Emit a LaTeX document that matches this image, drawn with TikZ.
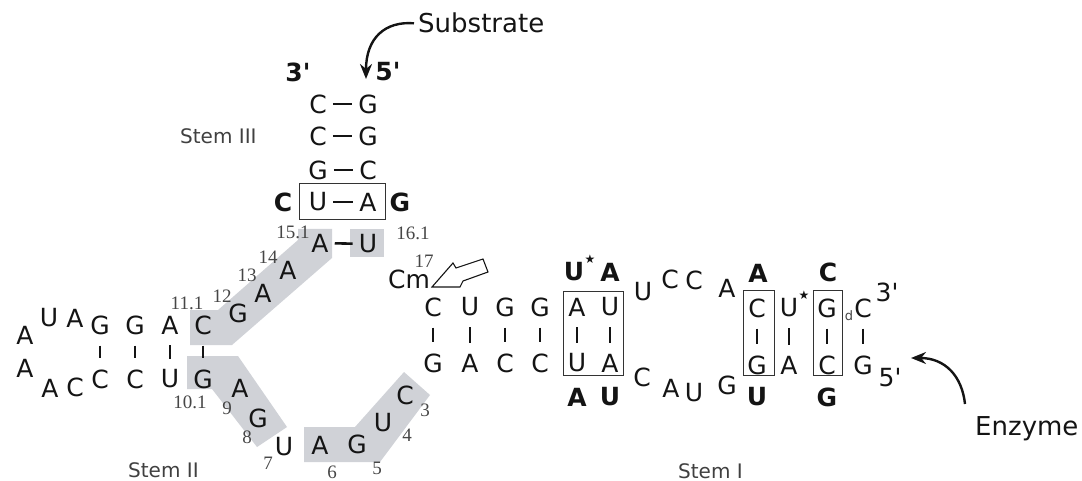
\documentclass[tikz,border=0pt]{standalone}
\usepackage{fontspec}
\setmainfont{DejaVu Sans}
\newfontfamily\numfont{Liberation Serif}
\usetikzlibrary{arrows.meta}

\definecolor{band}{RGB}{208,210,215}
\definecolor{numgray}{RGB}{70,70,70}
\definecolor{ink}{RGB}{20,20,20}

\newcommand{\pr}{\textquotesingle}

\begin{document}
\begin{tikzpicture}[x=1pt,y=-1pt,
  nt/.style={inner sep=0pt, text=ink, font=\fontsize{25}{25}\selectfont},
  bt/.style={inner sep=0pt, text=ink, font=\fontsize{25}{25}\selectfont\bfseries},
  num/.style={inner sep=0pt, text=numgray, font=\fontsize{19}{19}\selectfont\numfont},
  lbl/.style={inner sep=0pt, text=black!75, font=\fontsize{20}{20}\selectfont},
  big/.style={inner sep=0pt, text=ink, font=\fontsize{26}{26}\selectfont},
  star/.style={inner sep=0pt, text=ink, font=\fontsize{12}{12}\selectfont},
  vbar/.style={line width=2.6pt, draw=ink, shorten <=11pt, shorten >=11pt},
  hbar/.style={line width=2.6pt, draw=ink, shorten <=6pt, shorten >=6pt},
  pairbox/.style={draw=black!80, line width=0.9pt},
  curved/.style={line width=2.4pt, draw=ink, -{Stealth[length=15pt,width=12pt]}},
]
\useasboundingbox (0,0) rectangle (1082,481);

% ---------- shaded strands of the catalytic core ----------
\fill[band] (190,310) -- (218,310) -- (298,240) -- (298,229) -- (332,229)
  -- (332,258) -- (232,345) -- (190,345) -- cycle;
\fill[band] (350,229) rectangle (384,257);
\fill[band] (187,356) -- (238,356) -- (287,427) -- (257,447) -- (212,389)
  -- (187,389) -- cycle;
\fill[band] (304,427) -- (355,427) -- (404,372) -- (430,395) -- (380,462)
  -- (304,462) -- cycle;

% ---------- Stem III ----------
\node[bt] (p3) at (298,72) {3\pr};
\node[bt] (p5) at (388,72) {5\pr};
\node[nt] (s1l) at (318,104) {C}; \node[nt] (s1r) at (368,104) {G};
\node[nt] (s2l) at (318,136) {C}; \node[nt] (s2r) at (368,136) {G};
\node[nt] (s3l) at (318,170) {G}; \node[nt] (s3r) at (368,170) {C};
\node[nt] (s4l) at (318,202) {U}; \node[nt] (s4r) at (368,202) {A};
\node[bt] (s4c) at (283,202) {C};
\node[bt] (s4g) at (400,202) {G};
\node[nt] (s5l) at (320,243) {A}; \node[nt] (s5r) at (368,244) {U};
\foreach \i in {1,...,5} \draw[hbar] (s\i l) -- (s\i r);
\draw[pairbox] (299,183) rectangle (385,219);
\node[lbl, anchor=base west] (stem3) at (180,144) {Stem III};
\node[num] (n151) at (293,232) {15.1};
\node[num] (n161) at (413,233) {16.1};

% ---------- Substrate arrow ----------
\node[big, anchor=base west] (substrate) at (418,33) {Substrate};
\coordinate (subtip) at (366,79);
\draw[curved] ([xshift=-4pt]substrate.west) .. controls (385,21) and (366,38) .. (subtip);

% ---------- strand from Stem II to Stem III ----------
\node[nt] (j12) at (238,313) {G};
\node[nt] (j13) at (263,293) {A};
\node[nt] (j14) at (288,270) {A};
\node[num] (n111) at (187,303) {11.1};
\node[num] (n12) at (222,296) {12};
\node[num] (n13) at (247,275) {13};
\node[num] (n14) at (268,257) {14};

% ---------- Stem II ----------
\node[nt] (t1) at (100,325) {G}; \node[nt] (b1) at (100,379) {C};
\node[nt] (t2) at (135,325) {G}; \node[nt] (b2) at (135,379) {C};
\node[nt] (t3) at (170,325) {A}; \node[nt] (b3) at (170,379) {U};
\node[nt] (t4) at (203,325) {C}; \node[nt] (b4) at (203,379) {G};
\foreach \i in {1,...,4} \draw[vbar] (t\i) -- (b\i);
\node[nt] (l1) at (75,318) {A};
\node[nt] (l2) at (49,318) {U};
\node[nt] (l3) at (25,335) {A};
\node[nt] (l4) at (25,368) {A};
\node[nt] (l5) at (50,388) {A};
\node[nt] (l6) at (75,387) {C};
\node[lbl, anchor=base west] (stem2) at (128,477) {Stem II};

% ---------- strand from Stem II to Stem I ----------
\node[nt] (c9) at (240,388) {A};
\node[nt] (c8) at (258,418) {G};
\node[nt] (c7) at (284,447) {U};
\node[nt] (c6) at (320,445) {A};
\node[nt] (c5) at (357,444) {G};
\node[nt] (c4) at (383,423) {U};
\node[nt] (c3) at (405,395) {C};
\node[num] (n101) at (190,402) {10.1};
\node[num] (n9) at (227,408) {9};
\node[num] (n8) at (247,437) {8};
\node[num] (n7) at (268,463) {7};
\node[num] (n6) at (332,472) {6};
\node[num] (n5) at (377,468) {5};
\node[num] (n4) at (407,435) {4};
\node[num] (n3) at (425,410) {3};

% ---------- cleavage site ----------
\node[nt] (cm) at (409,279) {Cm};
\node[num] (n17) at (424,261) {17};
\draw[line width=1.1pt, draw=ink, line join=miter, fill=white]
  (432,287) -- (460,287) -- (463,281) -- (488,272) -- (483,259)
  -- (456,268) -- (453,263) -- cycle;

% ---------- Stem I ----------
\foreach \x/\a/\b [count=\i] in {433/C/G, 470/U/A, 505/G/C, 540/G/C, 577/A/U, 610/U/A}{
  \node[nt] (u\i) at (\x,307) {\a};
  \node[nt] (d\i) at (\x,363) {\b};
  \draw[vbar] (u\i) -- (d\i);
}
\draw[pairbox] (563,291) rectangle (623,375);
\node[bt] (bu1) at (574,272) {U};
\node[star] (st1) at (590,259) {★};
\node[bt] (ba1) at (610,272) {A};
\node[bt] (bd1) at (577,397) {A};
\node[bt] (bd2) at (610,397) {U};

\node[nt] (q1) at (643,292) {U};
\node[nt] (q2) at (670,279) {C};
\node[nt] (q3) at (694,280) {C};
\node[nt] (q4) at (727,288) {A};
\node[nt] (r1) at (642,377) {C};
\node[nt] (r2) at (671,388) {A};
\node[nt] (r3) at (694,393) {U};
\node[nt] (r4) at (727,385) {G};

\foreach \x/\a/\b [count=\i from 7] in {757/C/G, 789/U/A, 827/G/C, 863/C/G}{
  \node[nt] (u\i) at (\x,308) {\a};
  \node[nt] (d\i) at (\x,365) {\b};
  \draw[vbar] (u\i) -- (d\i);
}
\node[star] (st2) at (804,295) {★};
\draw[pairbox] (743,290) rectangle (774,375);
\draw[pairbox] (813,290) rectangle (842,375);
\node[bt] (ba2) at (758,273) {A};
\node[bt] (bc2) at (828,272) {C};
\node[bt] (bu2) at (757,397) {U};
\node[bt] (bg2) at (827,397) {G};
\node[inner sep=0pt, text=numgray, font=\fontsize{13}{13}\selectfont] (dmark) at (849,316) {d};
\node[nt] (e3) at (887,292) {3\pr};
\node[nt] (e5) at (890,378) {5\pr};
\node[lbl, anchor=base west] (stem1) at (678,478) {Stem I};

% ---------- Enzyme arrow ----------
\node[big, anchor=base west] (enzyme) at (975,435) {Enzyme};
\coordinate (enztip) at (911,358);
\draw[curved] (965,404) .. controls (962,376) and (945,358) .. (enztip);
\end{tikzpicture}
\end{document}
